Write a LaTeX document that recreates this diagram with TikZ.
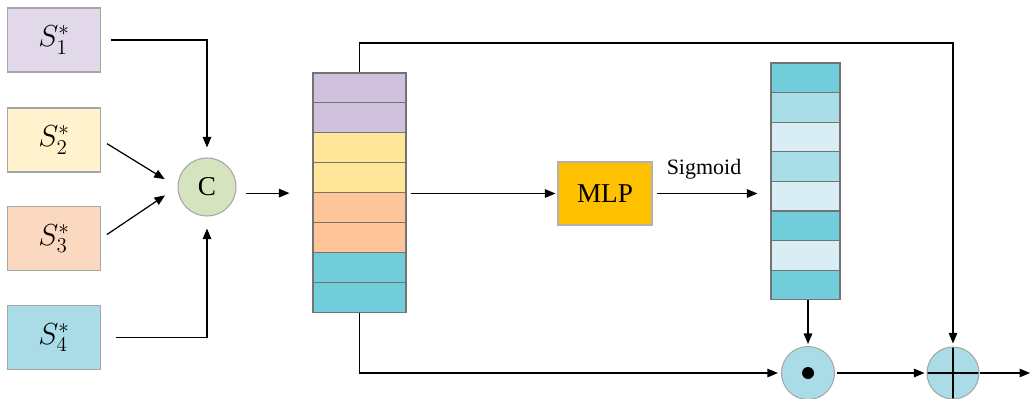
\documentclass[tikz,border=0pt]{standalone}
\usepackage{fontspec}
\setmainfont{Liberation Serif}
\usetikzlibrary{arrows.meta}

\definecolor{sone}{HTML}{E1D8E9}
\definecolor{stwo}{HTML}{FFF2CC}
\definecolor{sthree}{HTML}{FBD9C1}
\definecolor{sfour}{HTML}{AADCE8}
\definecolor{cgreen}{HTML}{D5E3BF}
\definecolor{fpurple}{HTML}{D0C1DC}
\definecolor{fyellow}{HTML}{FFE699}
\definecolor{forange}{HTML}{FFC599}
\definecolor{fteal}{HTML}{72CDDB}
\definecolor{wdark}{HTML}{72CDDB}
\definecolor{wmid}{HTML}{A9DDE8}
\definecolor{wlight}{HTML}{D8EEF4}
\definecolor{mlporange}{HTML}{FFC000}

\tikzset{
  inbox/.style={draw=gray!70,line width=0.6pt,minimum width=1.86cm,minimum height=1.28cm,inner sep=0pt,font=\fontsize{18}{21}\selectfont},
  cellA/.style={draw=black!55,line width=0.6pt,minimum width=1.86cm,minimum height=0.598cm,inner sep=0pt},
  cellB/.style={cellA,minimum width=1.38cm,minimum height=0.592cm},
  opnode/.style={circle,draw=gray!70,fill=sfour,line width=0.6pt,inner sep=0pt},
}

\begin{document}
\begin{tikzpicture}[x=0.02cm,y=-0.02cm,>={Triangle[length=0.21cm,width=0.17cm]},line width=0.7pt]
    \useasboundingbox (0,0) rectangle (1032,399);
    \node[inbox,fill=sone]   (s1) at (54,40)    {$S_1^*$};
    \node[inbox,fill=stwo]   (s2) at (54,140)   {$S_2^*$};
    \node[inbox,fill=sthree] (s3) at (54,238.5) {$S_3^*$};
    \node[inbox,fill=sfour]  (s4) at (54,337.5) {$S_4^*$};
    \node[circle,draw=gray!70,fill=cgreen,line width=0.6pt,minimum size=1.16cm,inner sep=0pt,font=\fontsize{15.5}{18}\selectfont] (cc) at (207,187) {C};
    %
    \foreach \c [count=\i] in {fpurple,fpurple,fyellow,fyellow,forange,forange,fteal,fteal}
      \node[cellA,fill=\c] (a\i) at (359.5,{73+14.95+(\i-1)*29.9}) {};
    \node[draw=gray!60,fill=mlporange,line width=0.6pt,minimum width=1.88cm,minimum height=1.26cm,font=\fontsize{15.5}{18}\selectfont] (mlp) at (605,193.5) {MLP};
    \node[font=\fontsize{12.5}{15}\selectfont] (sig) at (704,169) {Sigmoid};
    \foreach \c [count=\i] in {wdark,wmid,wlight,wmid,wlight,wdark,wlight,wdark}
      \node[cellB,fill=\c] (b\i) at (805.5,{63+14.8+(\i-1)*29.6}) {};
    %
    \node[opnode,minimum size=1.06cm,path picture={\fill[black] (path picture bounding box.center) circle (0.12cm);}] (odot) at (808,373) {};
    \node[opnode,minimum size=1.04cm,path picture={\draw[black,line width=0.8pt] (path picture bounding box.north) -- (path picture bounding box.south) (path picture bounding box.west) -- (path picture bounding box.east);}] (oplus) at (953,373) {};
    \coordinate (top) at (0,43);
    \coordinate (out) at (1030,373);
    %
    \draw[->,shorten <=0.19cm,shorten >=0.2cm] (s1.east) -| (cc.north);
    \draw[->,shorten <=0.14cm,shorten >=0.3cm] (s2.east) -- (cc.west);
    \draw[->,shorten <=0.14cm,shorten >=0.3cm] (s3.east) -- (cc.west);
    \draw[->,shorten <=0.29cm,shorten >=0.24cm] (s4.east) -| (cc.south);
    \draw[->,shorten <=0.18cm,shorten >=0.46cm] (cc.east |- a4.south west) -- (a4.south west);
    %
    \draw[->,shorten >=0.06cm] (a1.north) -- (a1.north |- top) -| (oplus.north);
    \draw[->,shorten <=0.08cm,shorten >=0.04cm] (mlp.west -| a4.east) -- (mlp.west);
    \draw[->,shorten <=0.08cm,shorten >=0.26cm] (mlp.east) -- (mlp.east -| b1.west);
    \draw[->,shorten >=0.06cm] (a8.south) |- (odot.west);
    \draw[->,shorten >=0.04cm] (b8.south -| odot.north) -- (odot.north);
    \draw[->,shorten <=0.04cm,shorten >=0.04cm] (odot.east) -- (oplus.west);
    \draw[->] (oplus.east) -- (out);
\end{tikzpicture}
\end{document}
